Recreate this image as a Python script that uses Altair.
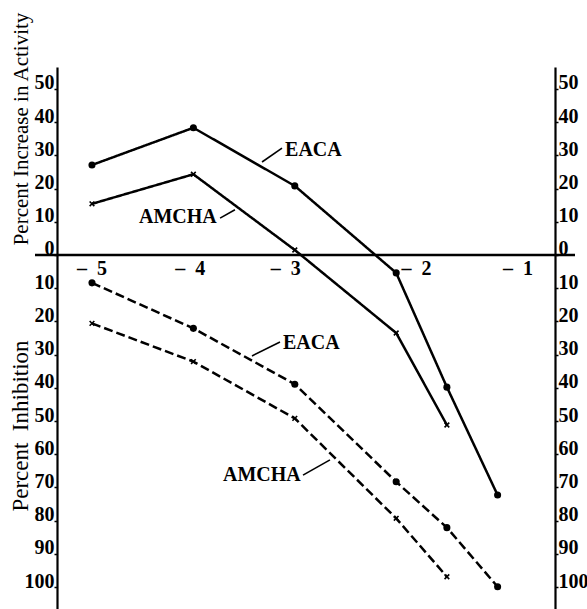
import altair as alt
import pandas as pd

# ---- data ----
x_conc = [-5, -4, -3, -2, -1.5, -1]
eaca_increase = [27.1, 38.3, 20.8, -5.4, -39.8, -72.3]
amcha_increase = [15.4, 24.3, 1.5, -23.5, -51.2]
eaca_inhibition = [-8.4, -22.1, -38.9, -68.3, -82.1, -99.9]
amcha_inhibition = [-20.6, -32.1, -49.2, -79.3, -96.9]

y_tick_values = [50, 40, 30, 20, 10, 0, -10, -20, -30, -40, -50, -60, -70, -80, -90, -100]
x_tick_pos = [-5.0, -4.03, -3.09, -1.8, -0.8]
x_tick_text = ["\u2013\u00a0 5", "\u2013\u00a0 4", "\u2013\u00a0 3", "\u2013\u00a0 2", "\u2013\u00a0 1"]

ann_text = ["EACA", "AMCHA", "EACA", "AMCHA"]
ann_x = [-3.106, -4.546, -3.126, -3.718]
ann_y = [31.5, 11.3, -26.4, -66.3]
lead_x = [-3.323, -3.737, -3.422, -2.919]
lead_y = [28.0, 11.1, -30.4, -66.3]
lead_x2 = [-3.126, -3.590, -3.146, -2.653]
lead_y2 = [32.2, 13.6, -26.2, -61.7]

titles = ["Percent Increase in Activity", "Percent\u00a0\u00a0Inhibition"]

# ---- tables ----
rows = []
for name, assay, vals in [("EACA", "increase", eaca_increase),
                          ("AMCHA", "increase", amcha_increase),
                          ("EACA", "inhibition", eaca_inhibition),
                          ("AMCHA", "inhibition", amcha_inhibition)]:
    for xv, yv in zip(x_conc, vals):
        rows.append({"drug": name, "assay": assay, "id": name + assay, "x": xv, "y": yv})
df = pd.DataFrame(rows)
ann = pd.DataFrame({"t": ann_text, "x": ann_x, "y": ann_y})
lead = pd.DataFrame({"x": lead_x, "y": lead_y, "x2": lead_x2, "y2": lead_y2})
xt = pd.DataFrame({"x": x_tick_pos, "t": x_tick_text})

FONT = "Liberation Serif"
xs = alt.Scale(domain=[-5.345, -0.434], nice=False, zero=False)
ys = alt.Scale(domain=[-106.6, 56.6], nice=False, zero=False)


def yaxis(orient):
    return alt.Axis(orient=orient, values=y_tick_values, labelExpr="abs(datum.value)",
                    title=None, grid=False, domainColor="black", domainWidth=2.2,
                    tickColor="black", tickSize=3, tickWidth=1.5,
                    labelFont=FONT, labelFontWeight="bold", labelFontSize=20,
                    labelColor="black", labelBaseline="alphabetic",
                    labelPadding=0, labelOverlap=False, labelFlush=False)


X = alt.X("x:Q", scale=xs, axis=None)

lines = alt.Chart(df).mark_line(color="black", strokeWidth=2.5).encode(
    x=X,
    y=alt.Y("y:Q", scale=ys, axis=yaxis("left")),
    detail="id:N",
    strokeDash=alt.StrokeDash("assay:N", scale=alt.Scale(domain=["increase", "inhibition"],
                                                         range=[[1, 0], [9, 4]]), legend=None),
)

dots = alt.Chart(df[df.drug == "EACA"]).mark_point(
    shape="circle", filled=True, color="black", size=50, opacity=1).encode(
    x=X, y=alt.Y("y:Q", scale=ys, axis=yaxis("right")))

crosses = alt.Chart(df[df.drug == "AMCHA"]).mark_point(
    shape="M-1,-1L1,1M1,-1L-1,1", filled=False, color="black", size=22,
    strokeWidth=1.6, opacity=1).encode(
    x=X, y=alt.Y("y:Q", scale=ys, axis=None))

zero_line = alt.Chart(pd.DataFrame({"a": [0]})).mark_rule(color="black", strokeWidth=2.5).encode(
    x=alt.value(-22), x2=alt.value(518), y=alt.YDatum(0, type="quantitative", scale=ys, axis=None))

xlabels = alt.Chart(xt).mark_text(font=FONT, fontWeight="bold", fontSize=20, color="black",
                                  align="center", baseline="alphabetic", dy=20).encode(
    x=X, y=alt.YDatum(0, type="quantitative", scale=ys, axis=None), text="t:N")

leaders = alt.Chart(lead).mark_rule(color="black", strokeWidth=1.6).encode(
    x=X, y=alt.Y("y:Q", scale=ys, axis=None), x2="x2:Q", y2="y2:Q")

labels = alt.Chart(ann).mark_text(font=FONT, fontWeight="bold", fontSize=20, color="black",
                                  align="left", baseline="middle", dx=1).encode(
    x=X, y=alt.Y("y:Q", scale=ys, axis=None), text="t:N")

title1 = alt.Chart(pd.DataFrame({"t": [titles[0]]})).mark_text(
    font=FONT, fontSize=21, color="black", angle=270, align="center", baseline="middle").encode(
    x=alt.value(-35), y=alt.value(62), text="t:N")

title2 = alt.Chart(pd.DataFrame({"t": [titles[1]]})).mark_text(
    font=FONT, fontSize=23, color="black", angle=270, align="center", baseline="middle").encode(
    x=alt.value(-36), y=alt.value(359), text="t:N")

chart = alt.layer(lines, dots, crosses, zero_line, xlabels, leaders, labels, title1, title2).resolve_scale(
    y="shared").resolve_axis(y="independent").properties(
    width=498, height=542,
    autosize=alt.AutoSizeParams(type="none"),
    padding={"left": 57, "top": 67, "right": 32, "bottom": 0},
    background="white",
).configure_view(stroke=None)

chart.save("out.html", embed_options={"renderer": "svg", "actions": False})
